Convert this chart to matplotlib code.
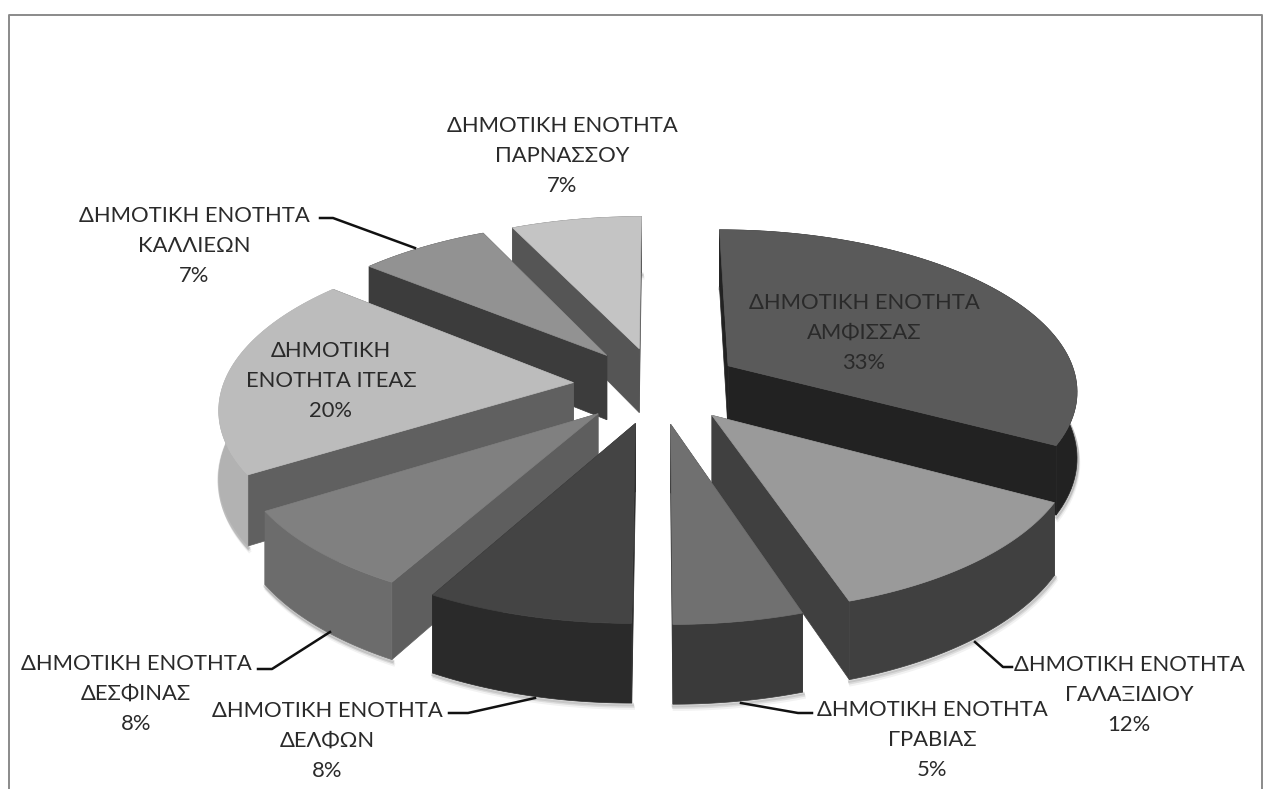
import numpy as np
import matplotlib
matplotlib.use("Agg")
import matplotlib.pyplot as plt
from matplotlib.patches import Polygon

names = ["ΔΗΜΟΤΙΚΗ ΕΝΟΤΗΤΑ\nΑΜΦΙΣΣΑΣ", "ΔΗΜΟΤΙΚΗ ΕΝΟΤΗΤΑ\nΓΑΛΑΞΙΔΙΟΥ", "ΔΗΜΟΤΙΚΗ ΕΝΟΤΗΤΑ\nΓΡΑΒΙΑΣ",
         "ΔΗΜΟΤΙΚΗ ΕΝΟΤΗΤΑ\nΔΕΛΦΩΝ", "ΔΗΜΟΤΙΚΗ ΕΝΟΤΗΤΑ\nΔΕΣΦΙΝΑΣ", "ΔΗΜΟΤΙΚΗ\nΕΝΟΤΗΤΑ ΙΤΕΑΣ",
         "ΔΗΜΟΤΙΚΗ ΕΝΟΤΗΤΑ\nΚΑΛΛΙΕΩΝ", "ΔΗΜΟΤΙΚΗ ΕΝΟΤΗΤΑ\nΠΑΡΝΑΣΣΟΥ"]
values = [33, 12, 5, 8, 8, 20, 7, 7]
top_colors = ["#5a5a5a", "#9a9a9a", "#707070", "#444444", "#808080", "#bcbcbc", "#929292", "#c4c4c4"]
outer_colors = ["#222222", "#404040", "#3a3a3a", "#2a2a2a", "#6c6c6c", "#b2b2b2", "#3c3c3c", "#555555"]
wall_colors = ["#222222", "#404040", "#3a3a3a", "#2a2a2a", "#5e5e5e", "#606060", "#3c3c3c", "#555555"]
label_xy = [(864, 333), (1129, 695), (932, 740), (327, 741), (136, 694), (331, 381), (194, 246), (562, 156)]
leaders = [None, [(975, 642), (1003, 667), (1012, 667)], [(741, 703), (798, 713), (812, 713)],
           [(535, 698), (468, 713), (449, 713)], [(330, 632), (272, 669), (258, 669)], None,
           [(415, 248), (333, 218), (320, 218)], None]

W, H = 1271, 789
CX, CY, RX, RY, K, EXPLODE, DEPTH = 657, 385, 350, 160, 0.14, 0.24, 66

def project(u, v, z=0):
    s = 1 / (1 - K * v)
    return CX + RX * u * s, CY + RY * v * s + DEPTH * z * s

plt.rcParams["font.family"] = ["Lato", "Open Sans", "DejaVu Sans"]
fig = plt.figure(figsize=(W / 100, H / 100), dpi=100)
ax = fig.add_axes([0, 0, 1, 1])
ax.set_xlim(0, W)
ax.set_ylim(H, 0)
ax.axis("off")

ax.plot([9, 9, 1262, 1262], [H, 15, 15, H], color="#8a8a8a", lw=1.4, zorder=1)

fractions = np.array(values) / sum(values)
edges = np.concatenate([[0], np.cumsum(fractions) * 2 * np.pi])
order = []
for i in range(len(values)):
    mid = (edges[i] + edges[i + 1]) / 2
    order.append((-np.cos(mid), i))

for _, i in sorted(order):
    a0, a1 = edges[i], edges[i + 1]
    mid = (a0 + a1) / 2
    ou, ov = EXPLODE * np.sin(mid), -EXPLODE * np.cos(mid)
    th = np.linspace(a0, a1, 80)
    au, av = ou + np.sin(th), ov - np.cos(th)
    topedge = [project(u, v) for u, v in zip(au, av)]
    botedge = [project(u, v, 1) for u, v in zip(au, av)]
    xs, ys = zip(*botedge)
    for off, alpha in [(5, 0.05), (3, 0.09), (1.5, 0.14)]:
        ax.plot(np.array(xs) + off * 0.3, np.array(ys) + off, color="#000000", alpha=alpha, lw=2.5, zorder=2)
    for a in (a0, a1):
        eu, ev = ou + np.sin(a), ov - np.cos(a)
        quad = [project(ou, ov), project(eu, ev), project(eu, ev, 1), project(ou, ov, 1)]
        ax.add_patch(Polygon(quad, closed=True, fc=wall_colors[i], ec=wall_colors[i], lw=0.5, zorder=2))
    ax.add_patch(Polygon(topedge + botedge[::-1], closed=True, fc=outer_colors[i], ec=outer_colors[i], lw=0.5, zorder=2))
    ax.add_patch(Polygon([project(ou, ov)] + topedge, closed=True, fc=top_colors[i], ec=top_colors[i], lw=0.5, zorder=2))

for i, name in enumerate(names):
    x, y = label_xy[i]
    ax.text(x, y, f"{name}\n{values[i]}%", ha="center", va="center", fontsize=15.8,
            color="#2a2a2a", linespacing=1.62, zorder=5)
    if leaders[i]:
        xs, ys = zip(*leaders[i])
        ax.plot(xs, ys, color="#111111", lw=1.8, zorder=4)

fig.savefig("out.png", dpi=100)
